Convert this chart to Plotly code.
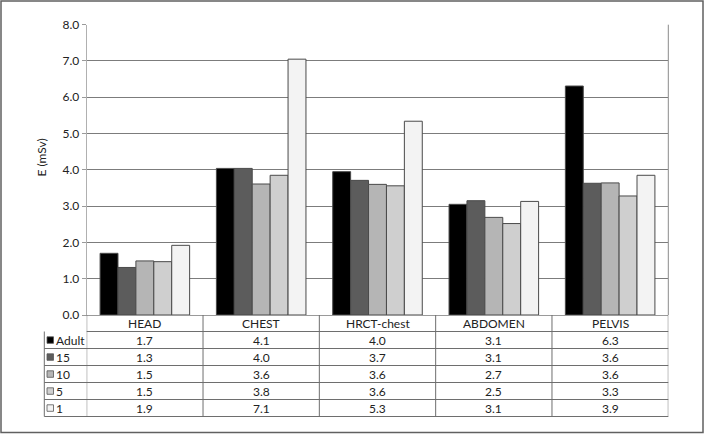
import plotly.graph_objects as go

categories = ["HEAD", "CHEST", "HRCT-chest", "ABDOMEN", "PELVIS"]
series_names = ["Adult", "15", "10", "5", "1"]

# bar heights
adult = [1.70, 4.04, 3.95, 3.05, 6.31]
age15 = [1.31, 4.04, 3.71, 3.15, 3.63]
age10 = [1.49, 3.61, 3.60, 2.69, 3.64]
age5 = [1.47, 3.85, 3.56, 2.52, 3.28]
age1 = [1.92, 7.05, 5.34, 3.13, 3.85]

# values printed in the data table
table_adult = ["1.7", "4.1", "4.0", "3.1", "6.3"]
table_15 = ["1.3", "4.0", "3.7", "3.1", "3.6"]
table_10 = ["1.5", "3.6", "3.6", "2.7", "3.6"]
table_5 = ["1.5", "3.8", "3.6", "2.5", "3.3"]
table_1 = ["1.9", "7.1", "5.3", "3.1", "3.9"]

y_ticks = [0, 1, 2, 3, 4, 5, 6, 7, 8]

colors = ["#000000", "#5c5c5c", "#b5b5b5", "#cfcfcf", "#f3f3f3"]
all_series = [adult, age15, age10, age5, age1]
all_table = [table_adult, table_15, table_10, table_5, table_1]

W, H = 710, 434
FONT = "Lato"

def px(x):
    return x / W

def py(y):
    return 1 - y / H

plot_l, plot_r = 86.7, 668.3
plot_t, plot_b = 24.7, 315.0

fig = go.Figure()
for name, vals, col in zip(series_names, all_series, colors):
    fig.add_trace(go.Bar(
        x=categories, y=vals, name=name,
        marker=dict(color=col, line=dict(color="#4a4a4a", width=1)),
        showlegend=False,
    ))

shapes = []
annotations = []

# table geometry
row_h = 17.0
table_top = plot_b
header_bottom = table_top + 16.5
row_tops = [header_bottom + i * row_h for i in range(5)]
table_bottom = row_tops[-1] + row_h
legend_l = 44.3
line_col = "#6e6e6e"

# right border of plot area
shapes.append(dict(type="line", xref="paper", yref="paper",
                   x0=px(plot_r), x1=px(plot_r), y0=py(plot_b), y1=py(plot_t),
                   line=dict(color="#8a8a8a", width=1)))

# horizontal lines of the table
shapes.append(dict(type="line", xref="paper", yref="paper",
                   x0=px(plot_l), x1=px(plot_r), y0=py(header_bottom), y1=py(header_bottom),
                   line=dict(color=line_col, width=1)))
for rt in row_tops[1:] + [table_bottom]:
    shapes.append(dict(type="line", xref="paper", yref="paper",
                       x0=px(legend_l), x1=px(plot_r), y0=py(rt), y1=py(rt),
                       line=dict(color=line_col, width=1)))
# left edge of legend column
shapes.append(dict(type="line", xref="paper", yref="paper",
                   x0=px(legend_l), x1=px(legend_l), y0=py(header_bottom), y1=py(table_bottom),
                   line=dict(color=line_col, width=1)))
# vertical separators between categories (data coords)
for i in range(len(categories) + 1):
    xv = i - 0.5
    shapes.append(dict(type="line", xref="x", yref="paper",
                       x0=xv, x1=xv, y0=py(table_top), y1=py(table_bottom),
                       line=dict(color=line_col, width=1)))

# header labels
for i, c in enumerate(categories):
    annotations.append(dict(x=c, y=py((table_top + header_bottom) / 2), xref="x", yref="paper",
                            text=c, showarrow=False, yanchor="middle",
                            font=dict(family=FONT, size=12, color="#222222")))
# table values + legend keys
for r, (name, tv, col) in enumerate(zip(series_names, all_table, colors)):
    cy = row_tops[r] + row_h / 2
    for i, c in enumerate(categories):
        annotations.append(dict(x=c, y=py(cy), xref="x", yref="paper",
                                text=tv[i], showarrow=False, yanchor="middle",
                                font=dict(family=FONT, size=12, color="#222222")))
    shapes.append(dict(type="rect", xref="paper", yref="paper",
                       x0=px(47), x1=px(53.5), y0=py(cy + 3.3), y1=py(cy - 3.2),
                       fillcolor=col, line=dict(color="#555555", width=0.8)))
    annotations.append(dict(x=px(53.5), y=py(cy), xref="paper", yref="paper",
                            text=name, showarrow=False, xanchor="left", yanchor="middle",
                            font=dict(family=FONT, size=12, color="#222222")))

# y-axis title
annotations.append(dict(x=px(40.5), y=py(158), xref="paper", yref="paper",
                        text="E (mSv)", showarrow=False, textangle=-90,
                        xanchor="center", yanchor="middle",
                        font=dict(family=FONT, size=12, color="#222222")))

# outer frame
shapes.append(dict(type="rect", xref="paper", yref="paper",
                   x0=px(1), x1=px(703), y0=py(432.5), y1=py(1),
                   line=dict(color="#606060", width=1.5)))

fig.update_layout(
    width=W, height=H, autosize=False,
    margin=dict(l=0, r=0, t=0, b=0, pad=0, autoexpand=False),
    paper_bgcolor="white", plot_bgcolor="white",
    barmode="group", bargap=0.23, bargroupgap=0,
    shapes=shapes, annotations=annotations,
    font=dict(family=FONT, size=12, color="#222222"),
    xaxis=dict(domain=[px(plot_l), px(plot_r)], showticklabels=False, ticks="",
               showline=True, linecolor="#9a9a9a", mirror=False, showgrid=False,
               range=[-0.5, 4.5], automargin=False),
    yaxis=dict(domain=[py(plot_b), py(plot_t)], range=[0, 8], tickvals=y_ticks,
               tickformat=".1f", ticks="outside", ticklen=4, tickcolor="#9a9a9a",
               showline=True, linecolor="#b0b0b0", mirror=False,
               gridcolor="#7c7c7c", gridwidth=1, zeroline=False, automargin=False,
               tickfont=dict(family=FONT, size=12, color="#222222")),
)

css_fix = (
    "var s=document.createElement('style');"
    "s.innerHTML='html,body{margin:0 !important;padding:0 !important;overflow:hidden;}';"
    "document.head.appendChild(s);"
)

fig.write_html(
    "out.html",
    config={"displayModeBar": False},
    post_script=css_fix,
)
